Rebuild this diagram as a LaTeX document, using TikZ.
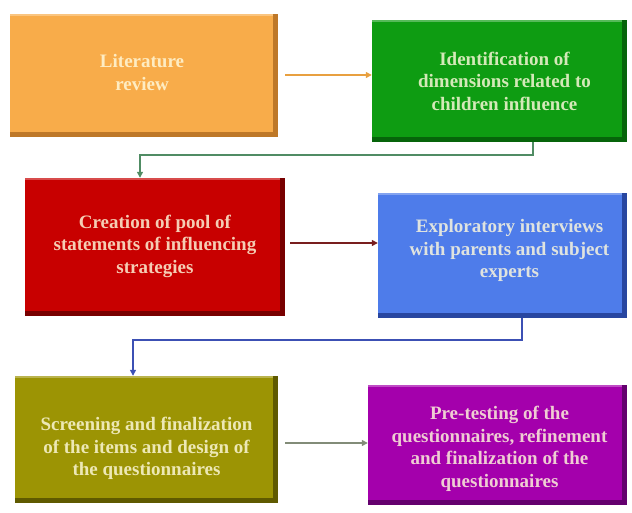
\documentclass[tikz,border=0pt]{standalone}
\usepackage{fontspec}
\setmainfont{Liberation Serif}
\usetikzlibrary{arrows.meta,calc}
\definecolor{orangeA}{RGB}{248,172,74}
\definecolor{orangeD}{RGB}{190,120,40}
\definecolor{greenA}{RGB}{14,156,18}
\definecolor{greenD}{RGB}{6,100,10}
\definecolor{redA}{RGB}{200,0,0}
\definecolor{redD}{RGB}{120,0,0}
\definecolor{blueA}{RGB}{78,124,234}
\definecolor{blueD}{RGB}{40,70,160}
\definecolor{oliveA}{RGB}{156,148,4}
\definecolor{oliveD}{RGB}{95,90,0}
\definecolor{purpA}{RGB}{164,0,172}
\definecolor{purpD}{RGB}{100,0,110}
\definecolor{txt}{RGB}{255,250,220}
\definecolor{c1}{RGB}{232,160,64}
\definecolor{c2}{RGB}{80,140,100}
\definecolor{c3}{RGB}{120,30,30}
\definecolor{c4}{RGB}{60,80,180}
\definecolor{c5}{RGB}{130,140,120}
\tikzset{
  x=1pt,y=1pt,
  box/.style n args={4}{draw=none,fill=#2,inner sep=0pt,minimum width=#3,minimum height=#4,
    path picture={\fill[#1] ($(path picture bounding box.north west)+(0,-2)$) rectangle ($(path picture bounding box.south east)+(-5,5)$);
                  \fill[#1!70!white] (path picture bounding box.north west) rectangle ($(path picture bounding box.north east)+(-5,-2)$);}},
  lbl/.style={text=txt!82!#1,font=\fontsize{19}{22.5}\selectfont\bfseries,align=center,inner sep=0pt},
  conn/.style={line width=1.3pt,-{Triangle[length=6pt,width=6pt]}},
}
\begin{document}
\begin{tikzpicture}
\useasboundingbox (0,0) rectangle (632,512);
\node[box={orangeA}{orangeD}{268pt}{123pt}] (b1) at (144,436.5) {};
\node[box={greenA}{greenD}{255pt}{122pt}] (b2) at (499.5,431) {};
\node[box={redA}{redD}{260pt}{138pt}] (b3) at (155,265) {};
\node[box={blueA}{blueD}{249pt}{125pt}] (b4) at (502.5,256.5) {};
\node[box={oliveA}{oliveD}{263pt}{127pt}] (b5) at (146.5,72.5) {};
\node[box={purpA}{purpD}{259pt}{120pt}] (b6) at (497.5,67) {};

\node[lbl=orangeA] (t1) at ($(b1.center)+(-2,3)$) {Literature\\review};
\node[lbl=greenA] (t2) at ($(b2.center)+(5,0)$) {Identification of\\dimensions related to\\children influence};
\node[lbl=redA] (t3) at ($(b3.center)+(0,1)$) {Creation of pool of\\statements of influencing\\strategies};
\node[lbl=blueA] (t4) at ($(b4.center)+(7,5)$) {Exploratory interviews\\with parents and subject\\experts};
\node[lbl=oliveA] (t5) at ($(b5.center)+(0,-9)$) {Screening and finalization\\of the items and design of\\the questionnaires};
\node[lbl=purpA] (t6) at ($(b6.center)+(2,-4)$) {Pre-testing of the\\questionnaires, refinement\\and finalization of the\\questionnaires};

\coordinate (a1s) at (285,437);
\draw[conn,c1] (a1s) -- (a1s -| b2.west);
\coordinate (k1) at (533,357);
\draw[conn,c2] (k1 |- b2.south) -- (k1) -- (140,357) -- (140,0 |- b3.north);
\coordinate (a3s) at (290,269);
\draw[conn,c3] (a3s) -- (a3s -| b4.west);
\coordinate (k2) at (522,172);
\draw[conn,c4] (k2 |- b4.south) -- (k2) -- (133,172) -- (133,0 |- b5.north);
\coordinate (a5s) at (285,69);
\draw[conn,c5] (a5s) -- (a5s -| b6.west);
\end{tikzpicture}
\end{document}
